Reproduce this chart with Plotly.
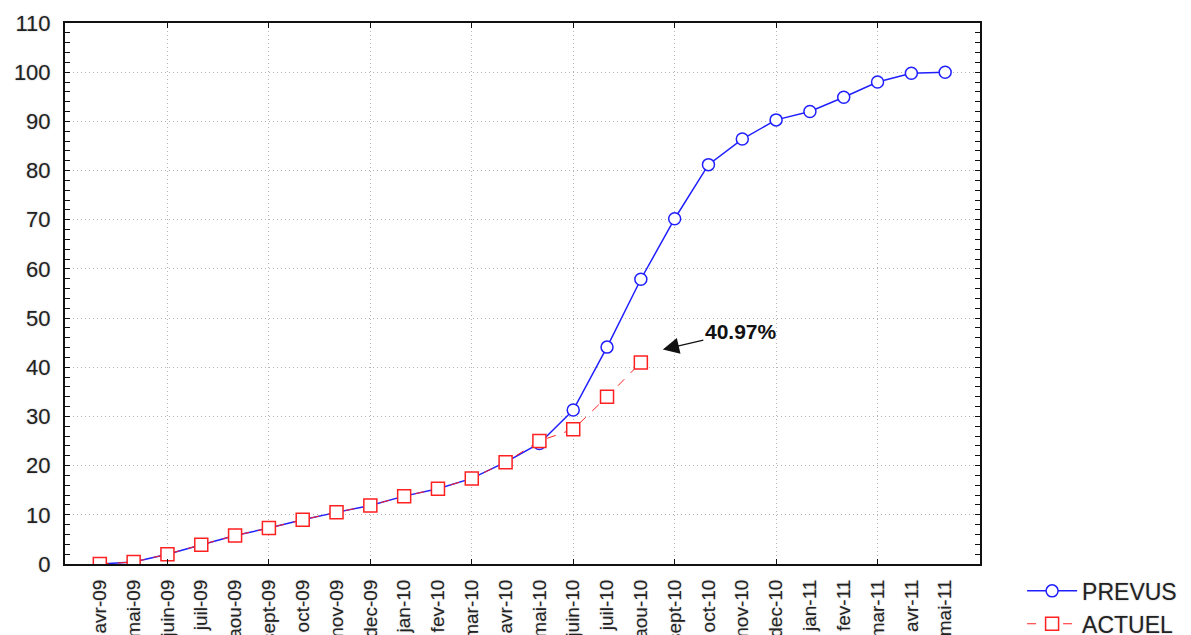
import plotly.graph_objects as go

months = ["avr-09", "mai-09", "juin-09", "juil-09", "aou-09", "sept-09", "oct-09",
          "nov-09", "dec-09", "jan-10", "fev-10", "mar-10", "avr-10", "mai-10",
          "juin-10", "juil-10", "aou-10", "sept-10", "oct-10", "nov-10", "dec-10",
          "jan-11", "fev-11", "mar-11", "avr-11", "mai-11"]
prevus = [0.0, 0.4, 2.0, 3.9, 5.8, 7.3, 9.0, 10.5, 11.9, 13.8, 15.3, 17.4, 20.7, 24.5,
          31.3, 44.1, 57.9, 70.2, 81.2, 86.4, 90.3, 92.0, 94.9, 98.0, 99.8, 100.0]
actuel = [0.0, 0.4, 2.0, 3.9, 5.8, 7.3, 9.0, 10.5, 11.9, 13.8, 15.3, 17.4, 20.7, 25.0,
          27.4, 34.0, 40.97]
grid_months = ["juin-09", "sept-09", "dec-09", "mar-10", "juin-10", "sept-10", "dec-10", "mar-11"]
annot_text = "40.97%"

idx = list(range(len(months)))
grid_idx = [months.index(m) for m in grid_months]

FONT = "Liberation Sans, Arial, sans-serif"
TXT = "#222222"
HALO = "0px 0px 2px #b8b8b8"
GRID = "#b4b4b4"
GDASH = "1px,3px"

fig = go.Figure()
fig.add_trace(go.Scatter(
    x=idx, y=prevus, name="PREVUS", mode="lines+markers",
    line=dict(color="#2020ff", width=1.5),
    marker=dict(symbol="circle", size=12, color="white", line=dict(color="#2020ff", width=1.5)),
))
fig.add_trace(go.Scatter(
    x=idx[:len(actuel)], y=actuel, name="ACTUEL", mode="lines+markers",
    line=dict(color="#ff2020", width=1, dash="dash"),
    marker=dict(symbol="square", size=13, color="white", line=dict(color="#ff2020", width=1.5)),
))
# helper invisible trace on the overlay axis for the dotted verticals
fig.add_trace(go.Scatter(x=[idx[0]], y=[0], xaxis="x2", mode="markers",
                         marker=dict(opacity=0), showlegend=False, hoverinfo="skip"))

xr = [-1.03, 26.03]
fig.update_layout(
    width=1191, height=635,
    margin=dict(l=65, r=211, t=23, b=71, autoexpand=False),
    paper_bgcolor="white", plot_bgcolor="white",
    font=dict(family=FONT, color=TXT),
    showlegend=True,
    legend=dict(x=1.046, y=-0.010, xanchor="left", yanchor="top",
                font=dict(size=23, color=TXT, family=FONT, shadow=HALO),
                itemwidth=50,
                bgcolor="rgba(0,0,0,0)", tracegroupgap=0),
    xaxis=dict(
        range=xr, tickmode="array", tickvals=idx, ticktext=months,
        tickangle=-90, tickfont=dict(size=19, color=TXT, shadow=HALO),
        showgrid=False, zeroline=False, ticks="", automargin=False,
        showline=True, linecolor="#111111", linewidth=2, mirror=True,
        ticklabelstandoff=6,
    ),
    xaxis2=dict(
        range=xr, overlaying="x", anchor="y", side="bottom", automargin=False,
        tickmode="array", tickvals=grid_idx, showticklabels=False,
        showgrid=True, gridcolor=GRID, griddash=GDASH, gridwidth=1,
        ticks="inside", ticklen=5, tickcolor="#111111", mirror="allticks",
        zeroline=False, showline=False,
    ),
    yaxis=dict(
        range=[0, 110], tickmode="linear", tick0=0, dtick=10, automargin=False,
        tickfont=dict(size=22, color=TXT, shadow=HALO),
        showgrid=True, gridcolor=GRID, griddash=GDASH, gridwidth=1,
        zeroline=False, ticks="inside", ticklen=5, tickcolor="#111111",
        minor=dict(dtick=2, ticks="inside", ticklen=3, tickcolor="#111111", showgrid=False),
        showline=True, linecolor="#111111", linewidth=2, mirror="allticks",
        ticklabelstandoff=8,
    ),
    annotations=[dict(
        x=16.65, y=43.6, xref="x", yref="y",
        text="<b>" + annot_text + "</b>", font=dict(size=21, color="#111111", family=FONT),
        showarrow=True, ax=78, ay=-18, arrowhead=2, arrowsize=2.5,
        arrowwidth=1.3, arrowcolor="#111111",
    )],
)

fig.write_html("out.html", config={"displayModeBar": False},
               post_script="document.body.style.margin='0';document.body.style.overflow='hidden';")
